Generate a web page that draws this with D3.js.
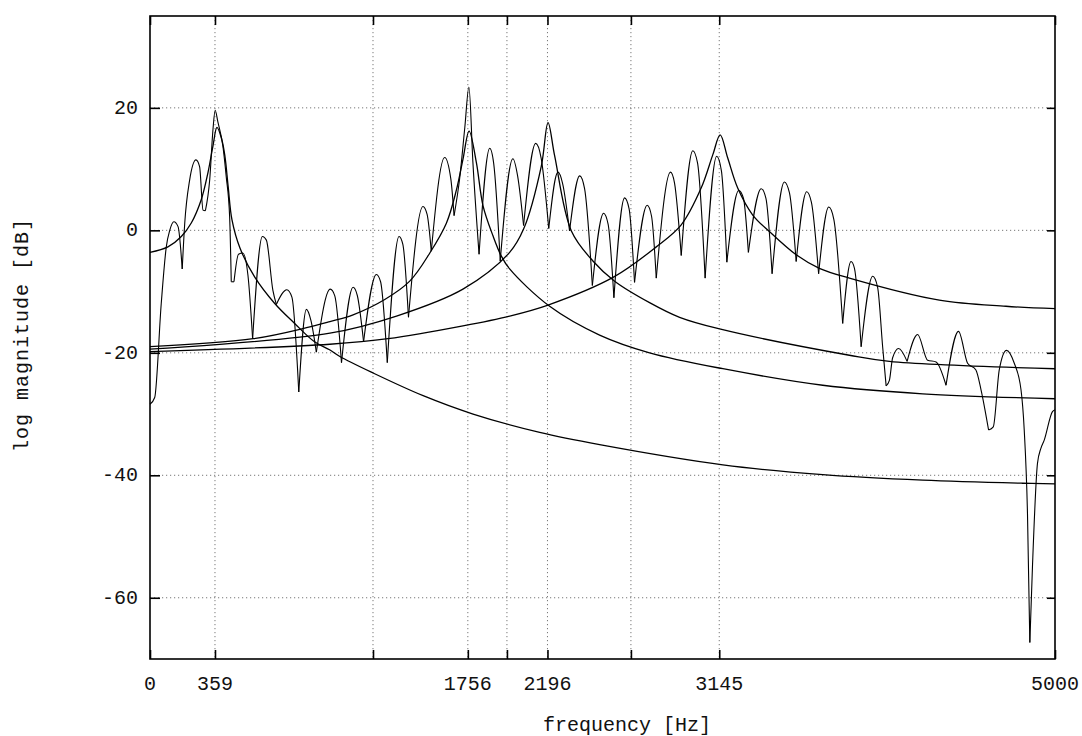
<!DOCTYPE html>
<html>
<head>
<meta charset="utf-8">
<script src="https://cdn.jsdelivr.net/npm/d3@7/dist/d3.min.js"></script>
<style>
  html, body { margin: 0; padding: 0; background: #fff; }
  svg { display: block; }
  text { font-family: "Liberation Mono", "Courier New", monospace; fill: #111; }
</style>
</head>
<body>
<svg id="chart" width="1082" height="736"></svg>
<script>
// ---------- data ----------
const xTickValues = [0, 359, 1756, 2196, 3145, 5000];
const xTickLabels = ["0", "359", "1756", "2196", "3145", "5000"];
const xExtraTicks = [1232, 1972, 2657];
const yTickValues = [20, 0, -20, -40, -60];
const yTickLabels = ["20", "0", "-20", "-40", "-60"];

const spectrumFreq = [0,26,62,90,109,132,155,178,192,219,254,274,293,306,330,348,360,375,403,421,440,449,464,489,513,541,567,621,643,679,698,756,784,822,864,889,919,996,1021,1058,1122,1145,1180,1251,1274,1311,1376,1397,1428,1508,1531,1554,1628,1662,1680,1711,1739,1762,1784,1818,1877,1899,1935,2005,2031,2064,2131,2161,2203,2254,2280,2318,2374,2401,2444,2506,2531,2563,2622,2647,2677,2747,2771,2797,2876,2898,2935,2999,3025,3067,3131,3157,3187,3253,3279,3306,3377,3403,3437,3505,3533,3570,3628,3654,3694,3750,3778,3827,3873,3892,3929,3993,4020,4048,4067,4085,4103,4136,4183,4241,4296,4343,4398,4467,4517,4563,4591,4633,4659,4692,4732,4775,4812,4830,4848,4861,4876,4903,4922,4940,4986,5000];
const spectrumDb = [-28.4,-27.3,-12.0,-2.7,0.0,1.4,0.6,-6.3,1.2,8.2,11.5,10.4,3.3,3.2,8.3,16.5,19.6,17.7,13.7,8.8,2.2,-8.4,-8.4,-3.9,-3.7,-7.3,-17.7,-1.0,-1.6,-9.8,-12.1,-9.7,-10.9,-26.4,-12.9,-14.7,-19.9,-9.6,-10.7,-21.6,-9.3,-10.6,-18.2,-7.2,-8.4,-21.6,-1.0,-2.3,-14.2,3.9,2.6,-3.4,11.9,8.4,2.4,8.5,16.7,23.4,11.1,-3.9,13.4,10.9,-5.0,11.7,8.9,0.8,14.2,11.8,0.3,9.5,7.6,-0.1,8.9,6.8,-9.0,2.8,1.0,-11.0,5.3,3.5,-8.5,4.1,2.3,-7.8,9.5,7.7,-4.1,13.0,11.0,-7.8,12.1,9.7,-5.2,6.5,5.2,-3.6,6.8,5.2,-7.1,7.9,6.1,-5.1,6.3,4.6,-7.1,3.8,1.8,-15.2,-5.1,-6.2,-19.0,-7.5,-9.3,-19.1,-25.4,-24.5,-20.8,-19.3,-21.4,-17.0,-21.2,-21.5,-25.3,-16.5,-21.7,-22.8,-26.0,-32.6,-32.1,-22.8,-19.6,-21.7,-26.0,-32.6,-46.3,-67.3,-54.5,-38.1,-35.6,-34.3,-29.6,-29.3];

const f1Freq = [0,99,173,228,283,320,348,370,396,414,432,453,497,578,688,799,909,992,1049,1233,1509,1785,2153,2484,3165,3717,4269,4821,5000];
const f1Db   = [-3.6,-2.7,-1.0,1.2,5.0,9.4,13.8,16.8,14.9,12.1,7.1,1.7,-2.9,-7.6,-11.9,-15.2,-18.2,-19.5,-20.6,-23.3,-27.0,-30.0,-33.0,-35.0,-38.3,-39.9,-40.8,-41.3,-41.4];

const f2Freq = [0,570,865,994,1122,1297,1435,1546,1638,1693,1729,1763,1803,1840,1895,1941,1987,2208,2484,2760,3165,3717,4269,5000];
const f2Db   = [-19.0,-17.7,-15.9,-14.9,-13.8,-11.3,-8.3,-3.7,1.2,6.6,11.6,16.2,11.1,4.0,-0.9,-4.2,-6.3,-12.4,-17.1,-20.0,-22.6,-25.3,-26.7,-27.5];

const f3Freq = [0,994,1362,1729,1987,2064,2162,2199,2236,2328,2447,2567,2760,2926,3147,3864,4085,5000];
const f3Db   = [-19.4,-16.8,-14.0,-9.6,-3.6,0.2,10.5,17.6,12.1,-0.1,-5.0,-8.3,-11.8,-14.2,-16.1,-20.4,-21.4,-22.6];

const f4Freq = [0,994,1315,1729,1987,2199,2563,2797,2935,3045,3110,3150,3192,3247,3330,3422,3570,3698,3864,4361,4729,5000];
const f4Db   = [-19.8,-18.6,-17.7,-15.6,-14.0,-12.2,-7.6,-2.7,0.9,6.9,12.4,15.6,11.8,6.9,2.5,-0.2,-4.0,-6.2,-7.8,-11.4,-12.4,-12.8];

// ---------- layout ----------
const L = 150, R = 1055, T = 16, B = 659;
const svg = d3.select("#chart");
const x = d3.scaleLinear().domain([0, 5000]).range([L, R]);
const y = d3.scaleLinear().domain([-70, 35]).range([B, T]);

// grid
const grid = svg.append("g").attr("stroke", "#555").attr("stroke-width", 0.8)
  .attr("stroke-dasharray", "1.2,2.8").attr("fill", "none");
grid.selectAll("line.v").data(xTickValues.slice(1, -1).concat(xExtraTicks)).enter()
  .append("line").attr("x1", d => x(d)).attr("x2", d => x(d)).attr("y1", T).attr("y2", B);
grid.selectAll("line.h").data(yTickValues).enter()
  .append("line").attr("x1", L).attr("x2", R).attr("y1", d => y(d)).attr("y2", d => y(d));

// axes with inward ticks
const allX = xTickValues.concat(xExtraTicks).sort((a, b) => a - b);
const xAxisB = d3.axisBottom(x).tickValues(allX).tickSize(-9).tickFormat(() => "");
const xAxisT = d3.axisTop(x).tickValues(allX).tickSize(-9).tickFormat(() => "");
const yAxisL = d3.axisLeft(y).tickValues(yTickValues).tickSize(-10).tickFormat(() => "");
const yAxisR = d3.axisRight(y).tickValues(yTickValues).tickSize(-8).tickFormat(() => "");

function styleAxis(g, w) {
  g.select(".domain").remove();
  g.selectAll("line").attr("stroke", "#000").attr("stroke-width", w);
}
svg.append("g").attr("transform", `translate(0,${B})`).call(xAxisB).call(g => styleAxis(g, 1.6));
svg.append("g").attr("transform", `translate(0,${T})`).call(xAxisT).call(g => styleAxis(g, 1.6));
svg.append("g").attr("transform", `translate(${L},0)`).call(yAxisL).call(g => styleAxis(g, 1.6));
svg.append("g").attr("transform", `translate(${R},0)`).call(yAxisR).call(g => styleAxis(g, 1.6));

// frame
svg.append("rect").attr("x", L).attr("y", T).attr("width", R - L).attr("height", B - T)
  .attr("fill", "none").attr("stroke", "#000").attr("stroke-width", 1.6);

// tick labels
svg.append("g").selectAll("text").data(xTickValues).enter().append("text")
  .attr("x", d => x(d)).attr("y", 690).attr("text-anchor", "middle")
  .attr("font-size", 20).text((d, i) => xTickLabels[i]);
svg.append("g").selectAll("text").data(yTickValues).enter().append("text")
  .attr("x", 138).attr("y", d => y(d) + 6).attr("text-anchor", "end")
  .attr("font-size", 20).text((d, i) => yTickLabels[i]);

// axis titles
svg.append("text").attr("x", 627).attr("y", 731).attr("text-anchor", "middle")
  .attr("font-size", 20).text("frequency [Hz]");
svg.append("text").attr("transform", "translate(28,335) rotate(-90)").attr("text-anchor", "middle")
  .attr("font-size", 20).attr("letter-spacing", 1).text("log magnitude [dB]");

// curves
const plot = svg.append("g");
function drawSmooth(fr, db) {
  const pts = fr.map((f, i) => [f, db[i]]);
  plot.append("path").datum(pts).attr("fill", "none").attr("stroke", "#000").attr("stroke-width", 1.3)
    .attr("d", d3.line().x(d => x(d[0])).y(d => y(d[1])).curve(d3.curveCatmullRom.alpha(0.5)));
}
drawSmooth(f1Freq, f1Db);
drawSmooth(f2Freq, f2Db);
drawSmooth(f3Freq, f3Db);
drawSmooth(f4Freq, f4Db);

// jagged spectrum: split into arches at local minima so notches stay pointed
const sp = spectrumFreq.map((f, i) => [f, spectrumDb[i]]);
const cuts = [0];
for (let i = 1; i < sp.length - 1; i++) {
  if (sp[i][1] <= sp[i - 1][1] && sp[i][1] <= sp[i + 1][1]) cuts.push(i);
}
cuts.push(sp.length - 1);
const segLine = d3.line().x(d => x(d[0])).y(d => y(d[1])).curve(d3.curveMonotoneX);
for (let k = 0; k < cuts.length - 1; k++) {
  const seg = sp.slice(cuts[k], cuts[k + 1] + 1);
  plot.append("path").datum(seg).attr("fill", "none").attr("stroke", "#000")
    .attr("stroke-width", 1.1).attr("stroke-linejoin", "round").attr("d", segLine);
}
</script>
</body>
</html>
